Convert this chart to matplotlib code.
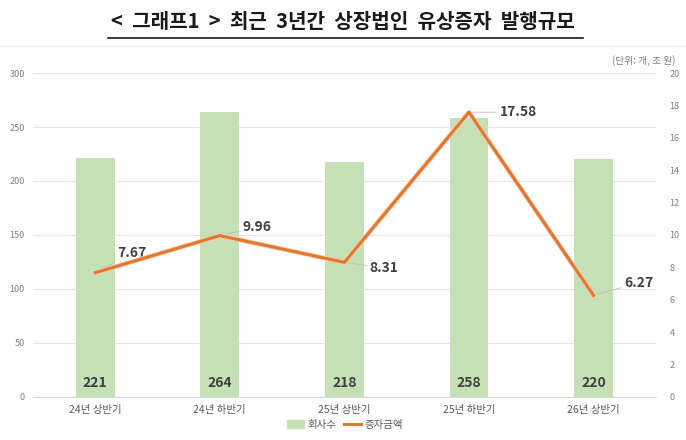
import matplotlib.pyplot as plt
from matplotlib.lines import Line2D
import matplotlib.patheffects as pe

plt.rcParams['font.family'] = ['Noto Sans CJK KR', 'DejaVu Sans']

# data
periods = ["24년 상반기", "24년 하반기", "25년 상반기", "25년 하반기", "26년 상반기"]
companies = [221, 264, 218, 258, 220]
amounts = [7.67, 9.96, 8.31, 17.58, 6.27]
# label offsets (points) for line values
label_offsets = [(16, 14), (16, 6), (18, -4), (22, 0), (22, 9)]

bar_color = "#C5E0B4"
line_color = "#E2782F"
text_dark = "#404040"
tick_gray = "#7F7F7F"

fig = plt.figure(figsize=(6.86, 4.40), dpi=100)
ax = fig.add_axes([0.048, 0.098, 0.908, 0.736])

x = list(range(len(periods)))
ax.bar(x, companies, width=0.31, color=bar_color, zorder=2)
ax.set_ylim(0, 300)
ax.set_yticks(range(0, 301, 50))
ax.set_xlim(-0.5, len(periods) - 0.5)
ax.set_xticks(x)
ax.set_xticklabels(periods, fontsize=7.5, color="#595959")
ax.grid(axis="y", color="#E6E6E6", linewidth=0.8, zorder=0)
ax.tick_params(axis="y", labelsize=6.5, labelcolor=tick_gray, length=0, pad=6)
ax.tick_params(axis="x", length=0, pad=6)
for s in ax.spines.values():
    s.set_visible(False)
ax.spines["bottom"].set_visible(True)
ax.spines["bottom"].set_color("#D9D9D9")

for xi, v in zip(x, companies):
    ax.text(xi, 6, str(v), ha="center", va="bottom", fontsize=10,
            fontweight="bold", color=text_dark, zorder=3)

ax2 = ax.twinx()
ax2.set_ylim(0, 20)
ax2.set_yticks(range(0, 21, 2))
ax2.tick_params(axis="y", labelsize=6.5, labelcolor=tick_gray, length=0, pad=10)
for s in ax2.spines.values():
    s.set_visible(False)

ax2.plot(x, amounts, color=line_color, linewidth=2.2, zorder=4,
         path_effects=[pe.Stroke(linewidth=3.4, foreground="#F8CBAD"), pe.Normal()])

for xi, v, off in zip(x, amounts, label_offsets):
    ax2.annotate(f"{v:.2f}", xy=(xi, v), xytext=off, textcoords="offset points",
                 ha="left", va="center", fontsize=10, fontweight="bold", color=text_dark,
                 arrowprops=dict(arrowstyle="-", color="#BFBFBF", linewidth=0.6,
                                 shrinkA=0, shrinkB=0))

# legend
handles = [plt.Rectangle((0, 0), 1, 1, color=bar_color),
           Line2D([0], [0], color=line_color, linewidth=2.2)]
fig.legend(handles, ["회사수", "증자금액"], loc="center", bbox_to_anchor=(0.503, 0.035),
           ncol=2, frameon=False, fontsize=7.5, handlelength=1.6, columnspacing=0.8,
           handletextpad=0.3, labelcolor="#595959")

# title and unit
fig.text(0.50, 0.952, "<  그래프1  >  최근  3년간  상장법인  유상증자  발행규모", ha="center", va="center",
         fontsize=14.5, fontweight="bold", color="#1a1a1a")
fig.add_artist(Line2D([108 / 686, 583 / 686], [1 - 38 / 440] * 2, color="#1a1a1a", linewidth=1.2))
fig.add_artist(Line2D([0, 1], [1 - 46 / 440] * 2, color="#EDEDED", linewidth=1.0))
fig.text(0.985, 1 - 61 / 440, "(단위: 개, 조 원)", ha="right", va="center",
         fontsize=7, color=tick_gray)

fig.savefig("out.png", dpi=100)
